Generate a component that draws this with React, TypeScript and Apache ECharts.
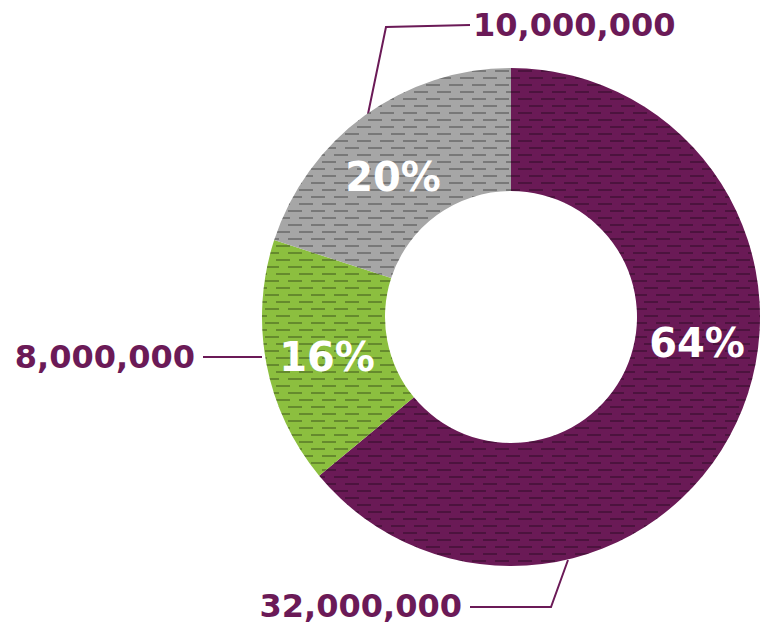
import React, { useEffect, useRef } from "react";
import * as echarts from "echarts";

const categories = ["A", "B", "C"];
const values = [32000000, 8000000, 10000000];
const valueLabels = ["32,000,000", "8,000,000", "10,000,000"];
const colors = ["#6a1a56", "#8cbf3f", "#a6a6a6"];

const PURPLE = "#6b1a57";
const FONT = "DejaVu Sans";

// label placements (percent labels and outer value labels)
const pctPos = [
  [697, 343],
  [327, 357],
  [393, 177],
];
const outerPos = [
  { x: 462, y: 606, align: "right" },
  { x: 195, y: 357, align: "right" },
  { x: 473, y: 25, align: "left" },
];
const outerLines = [
  [[568, 560], [551, 607], [470, 607]],
  [[262, 357], [232, 357], [203, 357]],
  [[368, 114], [386, 27], [470, 25]],
];

const decal = {
  symbol: "rect",
  symbolSize: 1,
  symbolKeepAspect: false,
  color: "rgba(0,0,0,0.28)",
  dashArrayX: [
    [14, 9],
    [3, 9, 11, 0],
  ],
  dashArrayY: [2, 4.3],
  rotation: 0,
};

export default function App() {
  const ref = useRef<HTMLDivElement>(null);
  useEffect(() => {
    document.body.style.margin = "0";
    const chart = echarts.init(ref.current!, null, { renderer: "svg" });
    const data = categories.map((c, i) => ({
      name: c,
      value: values[i],
      itemStyle: { color: colors[i] },
    }));
    chart.setOption({
      animation: false,
      series: [
        {
          type: "pie",
          center: [511, 317],
          radius: [126, 249],
          startAngle: 90,
          clockwise: true,
          silent: true,
          data,
          itemStyle: { decal },
          label: {
            show: true,
            position: "inside",
            color: "#ffffff",
            fontFamily: FONT,
            fontWeight: "bold",
            fontSize: 40,
            overflow: "none",
            formatter: (p: any) => Math.round(p.percent) + "%",
          },
          labelLine: { show: false },
          labelLayout: (p: any) => ({
            x: pctPos[p.dataIndex][0],
            y: pctPos[p.dataIndex][1],
            align: "center",
            verticalAlign: "middle",
          }),
        },
        {
          type: "pie",
          center: [511, 317],
          radius: [126, 249],
          startAngle: 90,
          clockwise: true,
          silent: true,
          data: categories.map((c, i) => ({
            name: c,
            value: values[i],
            itemStyle: { color: "rgba(0,0,0,0)" },
          })),
          label: {
            show: true,
            position: "outside",
            color: PURPLE,
            fontFamily: FONT,
            fontWeight: "bold",
            fontSize: 32,
            overflow: "none",
            edgeDistance: 0,
            formatter: (p: any) => valueLabels[p.dataIndex],
          },
          labelLine: {
            show: true,
            lineStyle: { color: PURPLE, width: 2 },
          },
          labelLayout: (p: any) => ({
            x: outerPos[p.dataIndex].x,
            y: outerPos[p.dataIndex].y,
            align: outerPos[p.dataIndex].align,
            verticalAlign: "middle",
            labelLinePoints: outerLines[p.dataIndex],
          }),
        },
      ],
    });
    return () => chart.dispose();
  }, []);
  return <div ref={ref} style={{ width: 766, height: 625 }} />;
}
